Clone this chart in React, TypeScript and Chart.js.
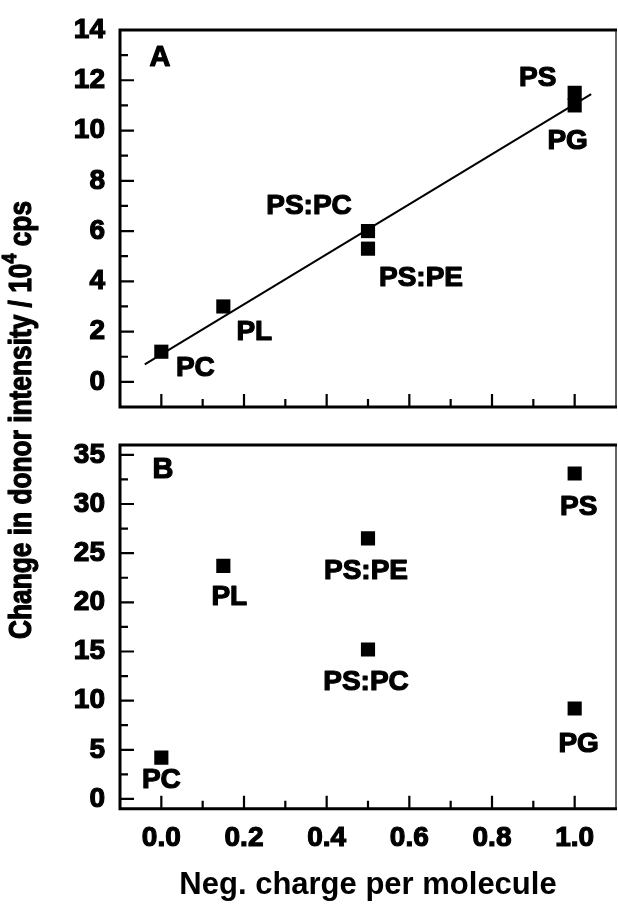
import React, { useEffect, useRef } from 'react';
import { Chart, registerables } from 'chart.js';

Chart.register(...registerables);

const FONT = '"Liberation Sans", Arial, Helvetica, sans-serif';

// ---------- data: panel A ----------
const labelsA = ['PC', 'PL', 'PS:PC', 'PS:PE', 'PS', 'PG'];
const chargeA = [0, 0.15, 0.5, 0.5, 1.0, 1.0];
const intensityA = [1.2, 3.0, 6.0, 5.3, 11.5, 11.0];
const fitX = [-0.04, 1.04];
const fitY = [0.7, 11.45];

// ---------- data: panel B ----------
const labelsB = ['PC', 'PL', 'PS:PE', 'PS:PC', 'PS', 'PG'];
const chargeB = [0, 0.15, 0.5, 0.5, 1.0, 1.0];
const intensityB = [4.2, 23.7, 26.5, 15.2, 33.1, 9.2];

// ---------- ticks ----------
const xTicks = [0, 0.2, 0.4, 0.6, 0.8, 1.0];
const xMinor = [0.1, 0.3, 0.5, 0.7, 0.9];
const yTicksA = [0, 2, 4, 6, 8, 10, 12, 14];
const yMinorA = [1, 3, 5, 7, 9, 11, 13];
const yTicksB = [0, 5, 10, 15, 20, 25, 30, 35];
const yMinorB = [2.5, 7.5, 12.5, 17.5, 22.5, 27.5, 32.5];

// ---------- label offsets (px, from marker centre) ----------
const offA = [[34, 17], [31, 26], [-59, -25], [53, 30], [-37, -15], [-7, 36]];
const offB = [[0, 23], [6, 31], [-2, 33], [-2, 33], [4, 34], [4, 36]];

const W = 618;
const H = 909;

function boldText(ctx: any, t: string, x: number, y: number) {
  ctx.lineWidth = 1.2;
  ctx.strokeStyle = '#000';
  ctx.lineJoin = 'round';
  ctx.strokeText(t, x, y);
  ctx.fillText(t, x, y);
}

function framePlugin(xMaj: number[], xMin: number[], yMaj: number[], yMin: number[], letter: string, letterOff: number[]) {
  return {
    id: 'frameTicks',
    afterDraw(chart: any) {
      const { ctx, chartArea: a, scales } = chart;
      const xs = scales.x;
      const ys = scales.y;
      ctx.save();
      ctx.strokeStyle = '#000';
      // thin right edge
      ctx.lineWidth = 1.2;
      ctx.beginPath();
      ctx.moveTo(a.right, a.top);
      ctx.lineTo(a.right, a.bottom);
      ctx.stroke();
      // heavy left, top, bottom edges
      ctx.lineWidth = 3;
      ctx.beginPath();
      ctx.moveTo(a.right + 1, a.top);
      ctx.lineTo(a.left, a.top);
      ctx.lineTo(a.left, a.bottom);
      ctx.lineTo(a.right + 1, a.bottom);
      ctx.stroke();
      ctx.lineWidth = 2.2;
      ctx.beginPath();
      yMaj.forEach((v) => {
        const p = ys.getPixelForValue(v);
        ctx.moveTo(a.left, p);
        ctx.lineTo(a.left + 14, p);
      });
      yMin.forEach((v) => {
        const p = ys.getPixelForValue(v);
        ctx.moveTo(a.left, p);
        ctx.lineTo(a.left + 8, p);
      });
      xMaj.forEach((v) => {
        const p = xs.getPixelForValue(v);
        ctx.moveTo(p, a.bottom);
        ctx.lineTo(p, a.bottom - 13);
      });
      xMin.forEach((v) => {
        const p = xs.getPixelForValue(v);
        ctx.moveTo(p, a.bottom);
        ctx.lineTo(p, a.bottom - 8);
      });
      ctx.stroke();
      ctx.fillStyle = '#000';
      ctx.font = `bold 29px ${FONT}`;
      ctx.textAlign = 'center';
      ctx.textBaseline = 'middle';
      boldText(ctx, letter, a.left + letterOff[0], a.top + letterOff[1]);
      ctx.restore();
    },
  };
}

function labelPlugin(names: string[], offs: number[][]) {
  return {
    id: 'pointLabels',
    afterDraw(chart: any) {
      const { ctx } = chart;
      const meta = chart.getDatasetMeta(0);
      ctx.save();
      ctx.fillStyle = '#000';
      ctx.font = `bold 28px ${FONT}`;
      ctx.textAlign = 'center';
      ctx.textBaseline = 'middle';
      meta.data.forEach((el: any, i: number) => {
        boldText(ctx, names[i], el.x + offs[i][0], el.y + offs[i][1]);
      });
      ctx.restore();
    },
  };
}

const yTitlePlugin = {
  id: 'yTitle',
  afterDraw(chart: any) {
    const { ctx } = chart;
    const parts = [
      { t: 'Change in donor intensity / 10', s: 31, rise: 0 },
      { t: '4', s: 21, rise: 12 },
      { t: ' cps', s: 31, rise: 0 },
    ];
    ctx.save();
    let total = 0;
    const widths = parts.map((p) => {
      ctx.font = `bold ${p.s}px ${FONT}`;
      const w = ctx.measureText(p.t).width;
      total += w;
      return w;
    });
    const target = 438;
    const k = target / total;
    ctx.translate(22, 420);
    ctx.rotate(-Math.PI / 2);
    ctx.scale(k, 1);
    ctx.fillStyle = '#000';
    ctx.textBaseline = 'middle';
    ctx.textAlign = 'left';
    let x = -total / 2;
    parts.forEach((p, i) => {
      ctx.font = `bold ${p.s}px ${FONT}`;
      boldText(ctx, p.t, x, -p.rise);
      x += widths[i];
    });
    ctx.restore();
  },
};

const tickFont = { family: FONT, size: 28, weight: 'bold' as const, lineHeight: 1 };

function yScale(min: number, max: number, ticks: number[]) {
  return {
    type: 'linear' as const,
    min,
    max,
    afterFit: (s: any) => {
      s.width = 120;
    },
    afterBuildTicks: (s: any) => {
      s.ticks = ticks.map((v) => ({ value: v }));
    },
    ticks: { font: tickFont, color: '#000', padding: 15, textStrokeColor: '#000', textStrokeWidth: 1.2 },
    grid: { display: false, drawTicks: false },
    border: { display: false },
  };
}

export default function App() {
  const refA = useRef<HTMLCanvasElement>(null);
  const refB = useRef<HTMLCanvasElement>(null);

  useEffect(() => {
    const pointsA = chargeA.map((x, i) => ({ x, y: intensityA[i] }));
    const fitPts = fitX.map((x, i) => ({ x, y: fitY[i] }));
    const pointsB = chargeB.map((x, i) => ({ x, y: intensityB[i] }));

    const chartA = new Chart(refA.current as HTMLCanvasElement, {
      type: 'scatter',
      data: {
        datasets: [
          {
            data: pointsA,
            pointStyle: 'rect',
            pointRadius: 10,
            pointBorderWidth: 0,
            backgroundColor: '#000',
            borderColor: '#000',
          },
          {
            data: fitPts,
            showLine: true,
            pointRadius: 0,
            borderWidth: 2,
            borderColor: '#000',
            backgroundColor: '#000',
          },
        ],
      },
      options: {
        animation: false,
        responsive: false,
        devicePixelRatio: 1,
        layout: { autoPadding: false, padding: { top: 30, right: 2, left: 0, bottom: H - 407 } },
        plugins: { legend: { display: false }, tooltip: { enabled: false } },
        scales: {
          x: { type: 'linear', display: false, min: -0.1, max: 1.1 },
          y: yScale(-1, 14, yTicksA) as any,
        },
      },
      plugins: [framePlugin(xTicks, xMinor, yTicksA, yMinorA, 'A', [40, 28]), labelPlugin(labelsA, offA), yTitlePlugin],
    });

    const chartB = new Chart(refB.current as HTMLCanvasElement, {
      type: 'scatter',
      data: {
        datasets: [
          {
            data: pointsB,
            pointStyle: 'rect',
            pointRadius: 10,
            pointBorderWidth: 0,
            backgroundColor: '#000',
            borderColor: '#000',
          },
        ],
      },
      options: {
        animation: false,
        responsive: false,
        devicePixelRatio: 1,
        layout: { autoPadding: false, padding: { top: 445, right: 2, left: 0, bottom: 0 } },
        plugins: { legend: { display: false }, tooltip: { enabled: false } },
        scales: {
          x: {
            type: 'linear',
            min: -0.1,
            max: 1.1,
            afterBuildTicks: (s: any) => {
              s.ticks = xTicks.map((v) => ({ value: v }));
            },
            ticks: {
              font: tickFont,
              color: '#000',
              padding: 15,
              maxRotation: 0,
              textStrokeColor: '#000',
              textStrokeWidth: 1.2,
              callback: (v: any) => Number(v).toFixed(1),
            },
            grid: { display: false, drawTicks: false },
            border: { display: false },
            title: {
              display: true,
              text: 'Neg. charge per molecule',
              color: '#000',
              font: { family: FONT, size: 31, weight: 'bold', lineHeight: 1.2 },
              padding: { top: 0, bottom: 5 },
            },
          },
          y: yScale(-1, 36, yTicksB) as any,
        },
      },
      plugins: [framePlugin(xTicks, xMinor, yTicksB, yMinorB, 'B', [43, 25]), labelPlugin(labelsB, offB)],
    });

    return () => {
      chartA.destroy();
      chartB.destroy();
    };
  }, []);

  return (
    <div style={{ position: 'fixed', left: 0, top: 0, width: W, height: H, background: '#fff' }}>
      <canvas ref={refA} width={W} height={H} style={{ position: 'absolute', left: 0, top: 0 }} />
      <canvas ref={refB} width={W} height={H} style={{ position: 'absolute', left: 0, top: 0 }} />
    </div>
  );
}
